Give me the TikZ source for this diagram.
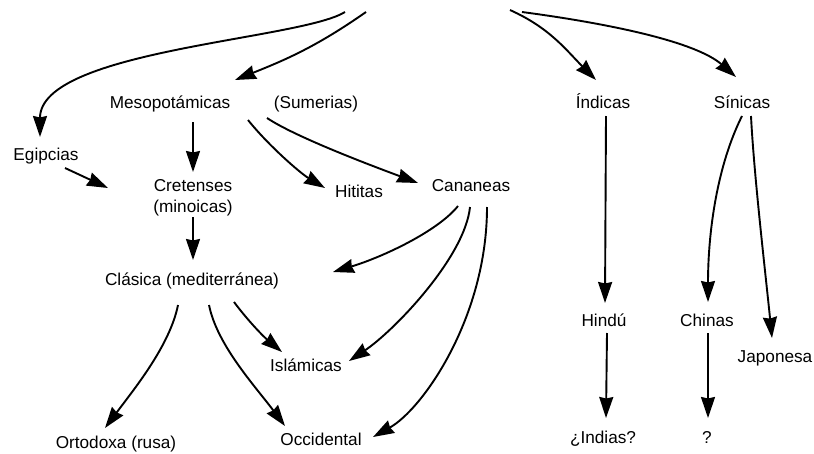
\documentclass[tikz,border=0pt]{standalone}
\usepackage{fontspec}
\setmainfont{Liberation Sans}
\usetikzlibrary{arrows.meta,calc}
\begin{document}
\begin{tikzpicture}[x=1pt,y=-1pt,
  lbl/.style={inner sep=0pt,anchor=base,font=\fontsize{17.2}{21}\selectfont},
  arr/.style={line width=1.9pt,-{Stealth[length=21pt,width=14pt,inset=1.5pt]}}]
\useasboundingbox (0,0) rectangle (814,453);
% nodes
\node[lbl] (egi) at (46,160) {Egipcias};
\node[lbl] (meso) at (170,108) {Mesopotámicas};
\node[lbl] (sum) at (316,108) {(Sumerias)};
\node[lbl,anchor=center,align=center] (cret) at (193,198) {Cretenses\\(minoicas)};
\node[lbl] (hit) at (359,197) {Hititas};
\node[lbl] (can) at (471,191) {Cananeas};
\node[lbl] (ind) at (603,108) {Índicas};
\node[lbl] (sin) at (742,108) {Sínicas};
\node[lbl] (cla) at (192,285) {Clásica (mediterránea)};
\node[lbl] (isl) at (306,371) {Islámicas};
\node[lbl] (hin) at (604,326) {Hindú};
\node[lbl] (chi) at (707,326) {Chinas};
\node[lbl] (jap) at (775,362) {Japonesa};
\node[lbl] (ort) at (116,448) {Ortodoxa (rusa)};
\node[lbl] (occ) at (321,445) {Occidental};
\node[lbl] (idi) at (603,443) {¿Indias?};
\node[lbl] (qq) at (707,443) {?};
% free ends at the top
\coordinate (t1) at (345,12);
\coordinate (t2) at (366,12);
\coordinate (t3) at (510,10);
\coordinate (t4) at (522,12);
% connectors
\draw[arr] (t1) .. controls +(-45,28) and +(0,-87) .. ($(egi.base)+(-6,-23)$);
\draw[arr] (t2) .. controls +(-50,35) and +(50,-20) .. ($(meso.base)+(65,-28)$);
\draw[arr] (t3) .. controls +(40,18) and +(-30,-30) .. ($(ind.base)+(-7,-28)$);
\draw[arr] (t4) .. controls +(90,12) and +(-40,-35) .. ($(sin.base)+(-6,-31)$);
\draw[arr] ($(meso.base)+(23,14)$) -- ($(cret.center)+(0,-26)$);
\draw[arr] ($(meso.base)+(78,12)$) .. controls +(20,25) and +(-25,-15) .. ($(hit.base)+(-34,-9)$);
\draw[arr] ($(meso.base)+(97,10)$) .. controls +(30,20) and +(-40,-15) .. ($(can.base)+(-53,-8)$);
\draw[arr] ($(egi.base)+(19,8)$) -- ($(cret.center)+(-85,-10)$);
\draw[arr] ($(cret.center)+(0,19)$) -- ($(cla.base)+(1,-25)$);
\draw[arr] ($(can.base)+(-13,15)$) .. controls +(-20,25) and +(50,-15) .. ($(cla.base)+(141,-13)$);
\draw[arr] ($(can.base)+(-1,16)$) .. controls +(-5,50) and +(45,-30) .. ($(isl.base)+(43,-10)$);
\draw[arr] ($(can.base)+(16,16)$) .. controls +(0,110) and +(50,-28) .. ($(occ.base)+(52,-8)$);
\draw[arr] ($(cla.base)+(-14,20)$) .. controls +(-8,40) and +(30,-40) .. ($(ort.base)+(-11,-20)$);
\draw[arr] ($(cla.base)+(17,20)$) .. controls +(8,40) and +(-30,-40) .. ($(occ.base)+(-36,-19)$);
\draw[arr] ($(cla.base)+(42,17)$) .. controls +(15,20) and +(-18,-15) .. ($(isl.base)+(-24,-19)$);
\draw[arr] ($(ind.base)+(3,8)$) -- ($(hin.base)+(1,-23)$);
\draw[arr] ($(hin.base)+(3,7)$) -- ($(idi.base)+(3,-25)$);
\draw[arr] ($(sin.base)+(0,8)$) .. controls +(-25,50) and +(0,-70) .. ($(chi.base)+(1,-24)$);
\draw[arr] ($(sin.base)+(9,8)$) .. controls +(3,60) and +(-6,-60) .. ($(jap.base)+(-3,-24)$);
\draw[arr] ($(chi.base)+(1,7)$) -- ($(qq.base)+(1,-25)$);
\end{tikzpicture}
\end{document}
